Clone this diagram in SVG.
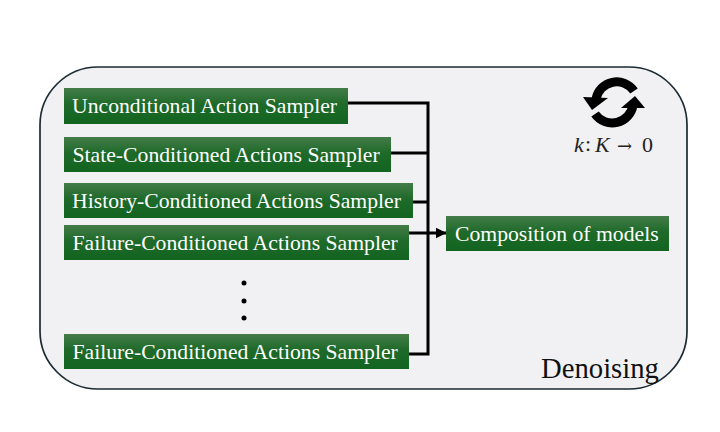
<svg xmlns="http://www.w3.org/2000/svg" width="720" height="432" viewBox="0 0 720 432">
<defs>
<linearGradient id="g" x1="0" y1="0" x2="0" y2="1"><stop offset="0" stop-color="#447c48"/><stop offset="0.45" stop-color="#1f6a2a"/><stop offset="1" stop-color="#126420"/></linearGradient>
<marker id="arrow" viewBox="0 0 10 10" refX="9.500" refY="5" markerWidth="11" markerHeight="11" markerUnits="userSpaceOnUse" orient="auto"><path d="M0 0L10 5L0 10Z" fill="#000"/></marker>
</defs>
<style>
.box{fill:url(#g)}
.lbl{font-family:"Liberation Serif",serif;font-size:21.700px;fill:#fff}
.wire{fill:none;stroke:#000;stroke-width:3}
</style>
<rect width="720" height="432" fill="#fff"/>
<rect id="panel" x="40" y="67" width="647" height="322" rx="58" ry="58" fill="#f1f1f3" stroke="#1c2b33" stroke-width="1.700"/>
<g id="connectors">
<path class="wire" d="M348 103H428V354H409"/>
<path class="wire" d="M391 153H428"/>
<path class="wire" d="M413 202H428"/>
<path class="wire" d="M409 233H446" marker-end="url(#arrow)"/>
</g>
<g id="n1"><rect class="box" x="64" y="88" width="284" height="36"/><text class="lbl" x="72" y="113">Unconditional Action Sampler</text></g>
<g id="n2"><rect class="box" x="64" y="137" width="327" height="35"/><text class="lbl" x="72.500" y="162">State-Conditioned Actions Sampler</text></g>
<g id="n3"><rect class="box" x="64" y="183" width="349" height="35"/><text class="lbl" x="72" y="208">History-Conditioned Actions Sampler</text></g>
<g id="n4"><rect class="box" x="64" y="225" width="345" height="35"/><text class="lbl" x="72.500" y="250">Failure-Conditioned Actions Sampler</text></g>
<g id="n5"><rect class="box" x="64" y="334" width="345" height="35"/><text class="lbl" x="72.500" y="359">Failure-Conditioned Actions Sampler</text></g>
<g id="n6"><rect class="box" x="446" y="216" width="223" height="35"/><text class="lbl" x="455" y="241">Composition of models</text></g>
<g id="dots" fill="#000"><circle cx="244" cy="283" r="2.500"/><circle cx="244" cy="301" r="2.500"/><circle cx="244" cy="318" r="2.500"/></g>
<g id="cycle">
<path d="M634 91A21 21 0 0 0 596 99" fill="none" stroke="#000" stroke-width="9"/>
<path d="M583 97L608 98L592 110Z" fill="#000"/>
<path d="M595 114A21 21 0 0 0 633 105" fill="none" stroke="#000" stroke-width="9"/>
<path d="M621 108L645 108L635 96Z" fill="#000"/>
</g>
<g id="formula" font-family="'Liberation Serif',serif" font-size="22px" fill="#222">
<text x="574" y="152" font-style="italic">k</text><text x="585" y="151">:</text><text x="595" y="152" font-style="italic">K</text><text x="617" y="152" font-family="'DejaVu Serif',serif" font-size="18px">→</text><text x="642" y="152">0</text>
</g>
<text id="denoising" x="541" y="378" font-family="'Liberation Serif',serif" font-size="28.700px" fill="#111">Denoising</text>
</svg>
